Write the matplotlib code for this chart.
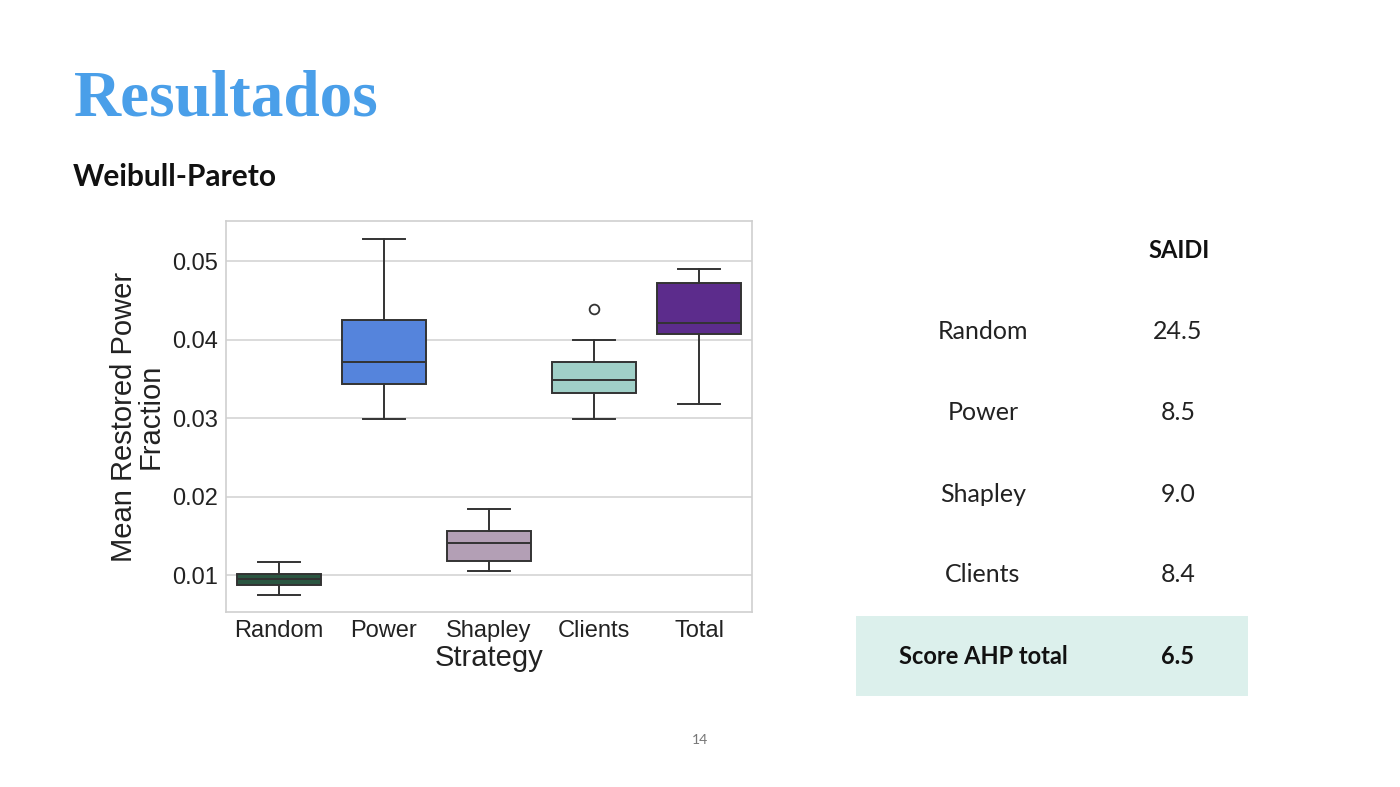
import matplotlib
matplotlib.use("Agg")
import matplotlib.pyplot as plt
from matplotlib.patches import Rectangle

# ---- data ----
strategies = ["Random", "Power", "Shapley", "Clients", "Total"]
whis_lo = [0.00755, 0.0299, 0.01056, 0.02988, 0.03182]
q1_vals = [0.00882, 0.03432, 0.01187, 0.03322, 0.04068]
medians = [0.00955, 0.0372, 0.01411, 0.03483, 0.04216]
q3_vals = [0.01018, 0.04254, 0.01568, 0.03712, 0.0472]
whis_hi = [0.0117, 0.0528, 0.01844, 0.0400, 0.04898]
fliers = [[], [], [], [0.04394], []]
y_ticks = [0.01, 0.02, 0.03, 0.04, 0.05]

table_rows = ["Random", "Power", "Shapley", "Clients"]
saidi_vals = ["24.5", "8.5", "9.0", "8.4"]
total_label = "Score AHP total"
total_value = "6.5"

box_colors = ["#2b5641", "#5584dc", "#b39fb5", "#a0d0c8", "#5c2c8c"]

# ---- figure ----
fig = plt.figure(figsize=(14, 7.87), dpi=100)
fig.patch.set_facecolor("white")

W, H = 1400, 787
def fx(x): return x / W
def fy(y): return 1 - y / H

fig.text(fx(74), fy(100), "Resultados", fontsize=47, fontweight="bold",
         family="Liberation Serif", color="#4a9fe9", va="center", ha="left")
fig.text(fx(73), fy(177), "Weibull-Pareto", fontsize=21.5, fontweight="bold",
         family="Lato", color="#111111", va="center", ha="left")

ax = fig.add_axes([fx(226), fy(612), (752 - 226) / W, (612 - 221) / H])
stats = []
for i, name in enumerate(strategies):
    stats.append(dict(label=name, whislo=whis_lo[i], q1=q1_vals[i], med=medians[i],
                      q3=q3_vals[i], whishi=whis_hi[i], fliers=fliers[i]))
edge = "#333333"
bp = ax.bxp(stats, positions=range(len(strategies)), widths=0.8, patch_artist=True,
            capwidths=0.4,
            boxprops=dict(edgecolor=edge, linewidth=1.4),
            medianprops=dict(color=edge, linewidth=1.4),
            whiskerprops=dict(color=edge, linewidth=1.4),
            capprops=dict(color=edge, linewidth=1.4),
            flierprops=dict(marker="o", markerfacecolor="none", markeredgecolor=edge,
                            markersize=7, markeredgewidth=1.3))
for patch, c in zip(bp["boxes"], box_colors):
    patch.set_facecolor(c)
ax.set_xlim(-0.5, 4.5)
ax.set_ylim(0.00535, 0.0551)
ax.set_yticks(y_ticks)
ax.set_yticklabels([f"{v:.2f}" for v in y_ticks])
ax.set_axisbelow(True)
ax.yaxis.grid(True, color="#d4d4d4", linewidth=1.2)
ax.xaxis.grid(False)
for s in ax.spines.values():
    s.set_color("#cfcfcf")
    s.set_linewidth(1.2)
ax.tick_params(length=0, labelsize=17, labelcolor="#222222", pad=6)
for lab in ax.get_xticklabels() + ax.get_yticklabels():
    lab.set_family("Liberation Sans")
ax.set_xlabel("Strategy", fontsize=21, family="Liberation Sans", color="#222222", labelpad=1)
ax.set_ylabel("Mean Restored Power\nFraction", fontsize=21, family="Liberation Sans",
              color="#222222", labelpad=5, linespacing=0.95)

# ---- table ----
fig.patches.append(Rectangle((fx(856), fy(696)), (1248 - 856) / W, (696 - 616) / H,
                             transform=fig.transFigure, facecolor="#dcf0ec",
                             edgecolor="none", zorder=0))
fig.text(fx(1179), fy(251), "SAIDI", fontsize=17, fontweight="bold", family="Lato",
         color="#111111", ha="center", va="center")
row_y = [332, 413, 494, 575]
for name, val, y in zip(table_rows, saidi_vals, row_y):
    fig.text(fx(983), fy(y), name, fontsize=18, family="Lato", fontweight="normal",
             color="#222222", ha="center", va="center")
    fig.text(fx(1178), fy(y), val, fontsize=18, family="Lato", fontweight="normal",
             color="#222222", ha="center", va="center")
fig.text(fx(983), fy(656), total_label, fontsize=17, fontweight="bold", family="Lato",
         color="#111111", ha="center", va="center")
fig.text(fx(1178), fy(656), total_value, fontsize=17, fontweight="bold", family="Lato",
         color="#111111", ha="center", va="center")

fig.text(fx(700), fy(740), "14", fontsize=10, family="Lato", color="#777777",
         ha="center", va="center")

fig.savefig("out.png", dpi=100, facecolor="white")
